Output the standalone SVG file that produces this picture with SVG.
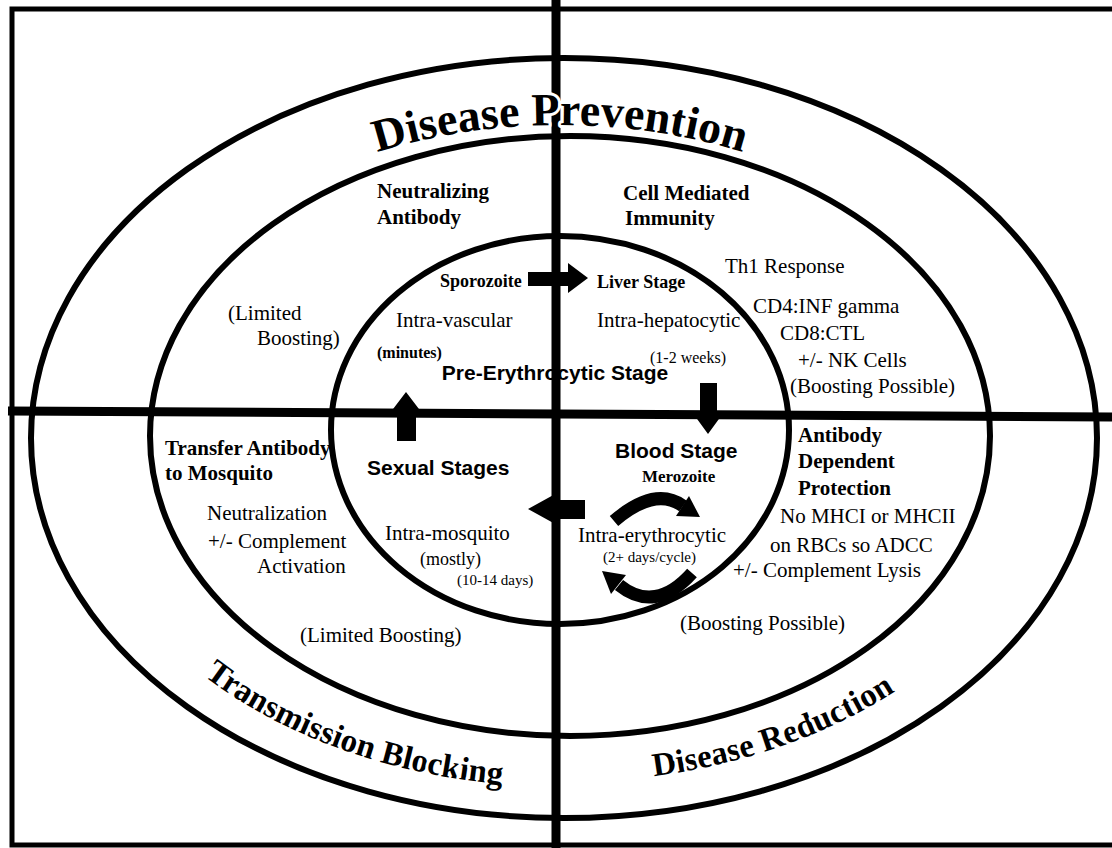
<svg xmlns="http://www.w3.org/2000/svg" width="1112" height="848" viewBox="0 0 1112 848">
<style>
.ln{fill:none;stroke:#000}
.hd{font-family:"Liberation Serif","Times New Roman",serif;font-weight:bold;font-size:21px;fill:#000}
.tx{font-family:"Liberation Serif","Times New Roman",serif;font-size:21px;fill:#000}
.sm{font-family:"Liberation Serif","Times New Roman",serif;fill:#000}
.ss{font-family:"Liberation Sans",Arial,sans-serif;font-weight:bold;font-size:21px;fill:#000}
.ti{font-family:"Liberation Serif","Times New Roman",serif;font-weight:900;fill:#000;stroke:#fff;stroke-width:6px;paint-order:stroke;stroke-linejoin:round}
.ar{fill:#000}
</style>
<defs>
<path id="topArc" d="M 120 425 A 440 300 0 0 1 1000 425"/>
<path id="blArc" d="M 204 676 A 492 350 0 0 0 567 787"/>
<path id="brArc" d="M 648 777 A 490 342 0 0 0 960 640"/>
</defs>
<rect width="1112" height="848" fill="#fff"/>
<g id="frame">
<rect class="ln" x="12" y="9" width="1120" height="836" stroke-width="5"/>
<ellipse class="ln" cx="564" cy="438" rx="533" ry="380" stroke-width="6"/>
<ellipse class="ln" cx="570" cy="436" rx="420" ry="300" stroke-width="6"/>
<ellipse class="ln" cx="560" cy="430" rx="229" ry="194" stroke-width="6"/>
<line class="ln" x1="8" y1="411" x2="1112" y2="417" stroke-width="9"/>
<line class="ln" x1="556" y1="0" x2="556" y2="848" stroke-width="9"/>
</g>
<g id="connectors">
<polygon class="ar" points="528,272 568,272 568,263 588,278 568,293 568,286 528,286"/>
<polygon class="ar" points="700,383 717,383 717,412 724,412 708,434 692,412 700,412"/>
<polygon class="ar" points="397,441 416,441 416,413 422,413 406,392 390,413 397,413"/>
<polygon class="ar" points="585,500 557,500 557,493 528,509 557,525 557,519 585,519"/>
<path class="ln" d="M 614 521 Q 655 486 683 506" stroke-width="13"/>
<polygon class="ar" points="676,516 689,496 700,517"/>
<path class="ln" d="M 692 573 Q 655 614 619 585" stroke-width="13"/>
<polygon class="ar" points="626,575 611,594 602,571"/>
</g>
<g id="title-prevention">
<text class="ti" font-size="46"><textPath href="#topArc" startOffset="50%" text-anchor="middle">Disease Prevention</textPath></text>
</g>
<g id="title-transmission">
<text class="ti" font-size="33"><textPath href="#blArc" startOffset="0">Transmission Blocking</textPath></text>
</g>
<g id="title-reduction">
<text class="ti" font-size="33"><textPath href="#brArc" startOffset="6">Disease Reduction</textPath></text>
</g>
<g id="pre-erythrocytic">
<text class="ss" x="555" y="380" text-anchor="middle">Pre-Erythrocytic Stage</text>
<text class="sm" x="440" y="287" font-size="18" font-weight="bold">Sporozoite</text>
<text class="tx" x="396" y="327">Intra-vascular</text>
<text class="sm" x="377" y="358" font-size="16" font-weight="bold">(minutes)</text>
<text class="sm" x="597" y="288" font-size="18" font-weight="bold">Liver Stage</text>
<text class="tx" x="597" y="327">Intra-hepatocytic</text>
<text class="sm" x="650" y="363" font-size="16">(1-2 weeks)</text>
</g>
<g id="neutralizing">
<text class="hd" x="377" y="198">Neutralizing</text>
<text class="hd" x="377" y="224">Antibody</text>
<text class="tx" x="228" y="320">(Limited</text>
<text class="tx" x="257" y="345">Boosting)</text>
</g>
<g id="cell-mediated">
<text class="hd" x="623" y="200">Cell Mediated</text>
<text class="hd" x="625" y="225">Immunity</text>
<text class="tx" x="725" y="273">Th1 Response</text>
<text class="tx" x="753" y="313">CD4:INF gamma</text>
<text class="tx" x="780" y="340">CD8:CTL</text>
<text class="tx" x="798" y="367">+/- NK Cells</text>
<text class="tx" x="790" y="393">(Boosting Possible)</text>
</g>
<g id="sexual">
<text class="ss" x="367" y="475">Sexual Stages</text>
<text class="tx" x="385" y="540">Intra-mosquito</text>
<text class="sm" x="420" y="565" font-size="18">(mostly)</text>
<text class="sm" x="457" y="585" font-size="15">(10-14 days)</text>
</g>
<g id="blood">
<text class="ss" x="615" y="458">Blood Stage</text>
<text class="sm" x="642" y="482" font-size="17" font-weight="bold">Merozoite</text>
<text class="tx" x="578" y="542">Intra-erythrocytic</text>
<text class="sm" x="603" y="562" font-size="15">(2+ days/cycle)</text>
</g>
<g id="transfer">
<text class="hd" x="165" y="455">Transfer Antibody</text>
<text class="hd" x="165" y="480">to Mosquito</text>
<text class="tx" x="207" y="520">Neutralization</text>
<text class="tx" x="208" y="548">+/- Complement</text>
<text class="tx" x="257" y="573">Activation</text>
<text class="tx" x="300" y="642">(Limited Boosting)</text>
</g>
<g id="antibody-dependent">
<text class="hd" x="798" y="442">Antibody</text>
<text class="hd" x="798" y="468">Dependent</text>
<text class="hd" x="798" y="495">Protection</text>
<text class="tx" x="780" y="523">No MHCI or MHCII</text>
<text class="tx" x="770" y="552">on RBCs so ADCC</text>
<text class="tx" x="733" y="577">+/- Complement Lysis</text>
<text class="tx" x="680" y="630">(Boosting Possible)</text>
</g>
</svg>
